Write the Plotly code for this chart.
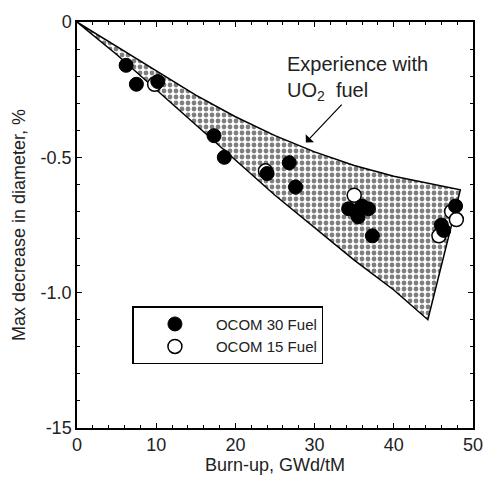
import plotly.graph_objects as go

# Band of experience with UO2 fuel (upper edge, then lower edge back to origin)
band_upper_x = [0, 5, 10, 15, 20, 25, 30, 35, 40, 45, 48.4]
band_upper_y = [0, -0.09, -0.18, -0.27, -0.35, -0.42, -0.48, -0.53, -0.57, -0.60, -0.62]
band_lower_x = [44.3, 40, 35, 30, 25, 20, 15, 10, 5, 0]
band_lower_y = [-1.10, -0.99, -0.88, -0.76, -0.64, -0.51, -0.38, -0.25, -0.12, 0]

# OCOM 30 fuel (filled)
ocom30_x = [6.2, 7.5, 10.2, 17.3, 18.6, 24.0, 26.8, 27.6, 34.3, 35.2, 36.0, 36.8, 35.5, 37.3, 46.0, 46.3, 47.8]
ocom30_y = [-0.16, -0.23, -0.22, -0.42, -0.50, -0.56, -0.52, -0.61, -0.69, -0.70, -0.68, -0.69, -0.72, -0.79, -0.75, -0.77, -0.68]

# OCOM 15 fuel (open)
ocom15_x = [9.8, 23.8, 35.0, 47.3, 47.9, 45.7]
ocom15_y = [-0.23, -0.55, -0.64, -0.70, -0.73, -0.79]

x_ticks = [0, 10, 20, 30, 40, 50]
y_ticks = [0, -0.5, -1.0, -1.5]
y_ticktext = ["0", "-0.5", "-1.0", "-15"]

FONT = "Liberation Sans, Arial"

fig = go.Figure()

fig.add_trace(go.Scatter(
    x=band_upper_x + band_lower_x,
    y=band_upper_y + band_lower_y,
    mode="lines",
    fill="toself",
    fillcolor="white",
    fillpattern=dict(shape=".", size=6, solidity=0.5, fgcolor="black", bgcolor="white"),
    line=dict(color="black", width=1.5),
    showlegend=False,
    hoverinfo="skip",
))

fig.add_trace(go.Scatter(
    x=ocom15_x, y=ocom15_y, mode="markers", name="OCOM 15 Fuel",
    marker=dict(symbol="circle", size=14, color="white", line=dict(color="black", width=1.5)),
))
fig.add_trace(go.Scatter(
    x=ocom30_x, y=ocom30_y, mode="markers", name="OCOM 30 Fuel",
    marker=dict(symbol="circle", size=14, color="black", line=dict(color="black", width=1)),
))

fig.add_annotation(
    x=26.2, y=-0.21, xref="x", yref="y",
    text="Experience with<br>UO<sub>2</sub>  fuel",
    showarrow=False, xanchor="left", align="left",
    font=dict(size=20, color="#222", family=FONT),
)
fig.add_annotation(
    x=28.9, y=-0.445, xref="x", yref="y",
    ax=33.6, ay=-0.30, axref="x", ayref="y",
    text="", showarrow=True, arrowhead=1, arrowsize=1.6, arrowwidth=1.2, arrowcolor="black",
)

axis_common = dict(
    showgrid=False, zeroline=False, showline=True, linecolor="black", linewidth=1.5,
    mirror="ticks", ticks="inside", ticklen=5, tickcolor="black",
    tickfont=dict(size=18, color="#222", family=FONT),
)

fig.update_xaxes(
    range=[0, 50], tickvals=x_ticks,
    minor=dict(dtick=2, ticks="inside", ticklen=3, tickcolor="black"),
    title=dict(text="Burn-up, GWd/tM", font=dict(size=18, color="#222", family=FONT), standoff=2),
    **axis_common,
)
fig.update_yaxes(
    range=[-1.5, 0], tickvals=y_ticks, ticktext=y_ticktext,
    minor=dict(dtick=0.1, ticks="inside", ticklen=3, tickcolor="black"),
    title=dict(text="Max decrease in diameter, %", font=dict(size=18, color="#222", family=FONT), standoff=10),
    **axis_common,
)

fig.update_layout(
    width=495, height=482,
    margin=dict(l=77, r=17, t=20, b=37),
    paper_bgcolor="white", plot_bgcolor="white",
    font=dict(family=FONT, color="#222"),
    legend=dict(
        x=0.14, y=0.30, xanchor="left", yanchor="top",
        bordercolor="black", borderwidth=1.5, bgcolor="white",
        traceorder="reversed", itemwidth=72,
        font=dict(size=15, color="#222", family=FONT),
    ),
)

fig.write_html("out.html")
